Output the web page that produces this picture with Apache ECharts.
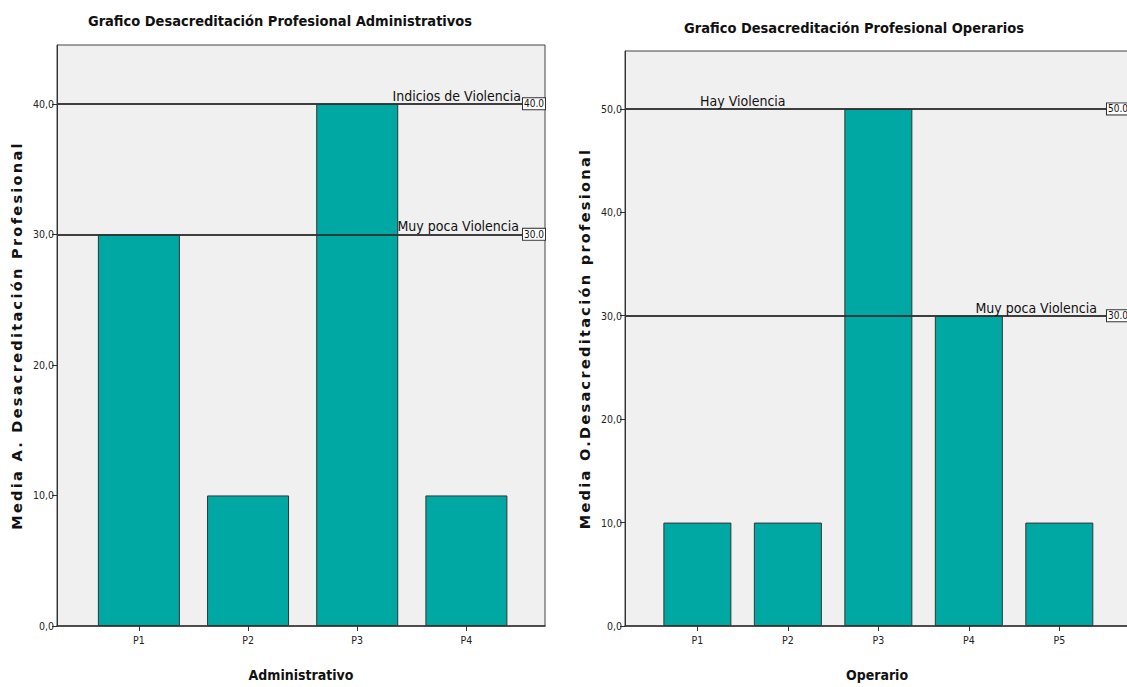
<!DOCTYPE html>
<html><head><meta charset="utf-8">
<script src="https://cdn.jsdelivr.net/npm/echarts@6/dist/echarts.min.js"></script>
<style>html,body{margin:0;padding:0;background:#fff}#c{width:1127px;height:687px}</style>
</head><body><div id="c"></div>
<script>
const adminCategories = ['P1','P2','P3','P4'];
const adminValues = [30,10,40,10];
const operCategories = ['P1','P2','P3','P4','P5'];
const operValues = [10,10,50,30,10];
const yTicksAdmin = [0,10,20,30,40];
const yTicksOper = [0,10,20,30,40,50];
const adminRefLines = [{value:40,label:'Indicios de Violencia'},{value:30,label:'Muy poca Violencia'}];
const operRefLines = [{value:50,label:'Hay Violencia'},{value:30,label:'Muy poca Violencia'}];

const NARROW = '"Liberation Sans Narrow","DejaVu Sans Condensed",sans-serif';
const fmtY = v => v.toFixed(1).replace('.', ',');

function xAxisCfg(gi, cats, min, max, name){
  const idx = cats.map((c,i)=>i+1);
  return {type:'value', gridIndex:gi, min:min, max:max,
    axisLine:{show:true,lineStyle:{color:'#333',width:1.5}},
    axisTick:{show:true,customValues:idx,length:5,lineStyle:{color:'#333'}},
    axisLabel:{customValues:idx,formatter:v=>cats[Math.round(v)-1]||'',fontFamily:NARROW,fontSize:10.5,color:'#222',margin:8},
    splitLine:{show:false},
    name:name,nameLocation:'middle',nameGap:42,
    nameTextStyle:{fontFamily:NARROW,fontWeight:'bold',fontSize:14,color:'#111'}};
}
function yAxisCfg(gi, ticks, max, name){
  return {type:'value', gridIndex:gi, min:0, max:max,
    axisLine:{show:true,lineStyle:{color:'#333',width:1}},
    axisTick:{show:true,customValues:ticks,length:5,lineStyle:{color:'#333'}},
    axisLabel:{customValues:ticks,formatter:fmtY,fontFamily:NARROW,fontSize:10.5,color:'#222',margin:3},
    splitLine:{show:false},
    name:name,nameLocation:'middle',nameGap:33,nameRotate:90,
    nameTextStyle:{fontFamily:'"DejaVu Sans",sans-serif',fontWeight:'bold',fontSize:14.5,color:'#111'}};
}
function refMark(lines, textPos, textDist){
  const data = [];
  lines.forEach((l,i)=>{
    data.push({yAxis:l.value,label:{formatter:l.label,position:textPos[i],distance:textDist[i],
      fontFamily:NARROW,fontSize:14,color:'#111'}});
    data.push({yAxis:l.value,label:{formatter:l.value.toFixed(1),position:'insideEnd',distance:0,
      fontFamily:NARROW,fontSize:10,color:'#111',backgroundColor:'#fff',borderColor:'#333',borderWidth:1,padding:[1,1,0,1]}});
  });
  return {symbol:['none','none'],silent:true,animation:false,
    lineStyle:{color:'#333',width:1.5,type:'solid'},data:data};
}
function barSeries(gi, cats, vals, bw, mark){
  return {type:'bar', xAxisIndex:gi, yAxisIndex:gi, barWidth:bw,
    data: cats.map((c,i)=>[i+1, vals[i]]),
    itemStyle:{color:'#00a8a4',borderColor:'#333',borderWidth:1},
    markLine:mark, animation:false};
}
const chart = echarts.init(document.getElementById('c'), null, {renderer:'svg'});
chart.setOption({
  backgroundColor:'#fff',
  animation:false,
  title:[
    {text:'Grafico Desacreditación Profesional Administrativos',left:275,top:8,textAlign:'center',
     textStyle:{fontFamily:NARROW,fontWeight:'bold',fontSize:14.5,color:'#111'}},
    {text:'Grafico Desacreditación Profesional Operarios',left:849,top:15,textAlign:'center',
     textStyle:{fontFamily:NARROW,fontWeight:'bold',fontSize:14.5,color:'#111'}}
  ],
  grid:[
    {left:57,top:45,width:488,height:581,show:true,backgroundColor:'#f0f0f0',borderColor:'#444',borderWidth:1,outerBoundsMode:'none'},
    {left:625,top:51,width:504,height:575,show:true,backgroundColor:'#f0f0f0',borderColor:'#444',borderWidth:1,outerBoundsMode:'none'}
  ],
  xAxis:[
    xAxisCfg(0, adminCategories, 0.25, 4.72, 'Administrativo'),
    xAxisCfg(1, operCategories, 0.2, 5.77, 'Operario')
  ],
  yAxis:[
    yAxisCfg(0, yTicksAdmin, 44.5, 'Media A. Desacreditación Profesional'),
    yAxisCfg(1, yTicksOper, 55.6, 'Media O.Desacreditación profesional')
  ],
  series:[
    barSeries(0, adminCategories, adminValues, 82, refMark(adminRefLines,['insideEndTop','insideEndTop'],[[24,1],[26,1]])),
    barSeries(1, operCategories, operValues, 68, refMark(operRefLines,['insideStartTop','insideEndTop'],[[75,1],[32,1]]))
  ]
});
function spaceNames(){
  document.querySelectorAll('#c svg text').forEach(t=>{
    if ((t.textContent||'').indexOf('Media ')===0) t.setAttribute('letter-spacing','2.3');
  });
}
spaceNames();
chart.on('finished', spaceNames);
setTimeout(spaceNames, 50);
</script></body></html>
